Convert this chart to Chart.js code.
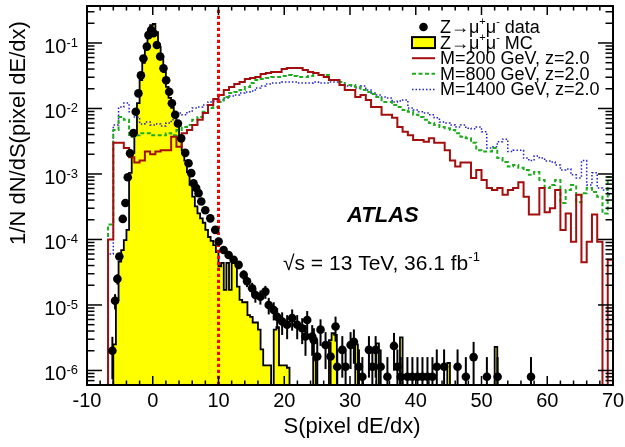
<!DOCTYPE html>
<html>
<head>
<meta charset="utf-8">
<script src="https://cdn.jsdelivr.net/npm/chart.js@4.4.1/dist/chart.umd.min.js"></script>
<style>
  html, body { margin: 0; padding: 0; background: #fff; }
  #c { display: block; }
</style>
</head>
<body>
<canvas id="c" width="625" height="447"></canvas>
<script>
// binning of the histograms (S in pixel dE/dx units)
const sigStart = -6.8, sigWidth = 0.8;
const mcStart = -6.0, mcWidth = 0.4;
const cutS = 10;
const yMin = 6.0e-7, yMax = 0.367;
const eventWeight = 8e-7; // one data event, for the Poisson error bars

// signal samples, z=2.0
const sig200 = [
  1.0e-4, 3.0e-3, 3.0e-3, 2.5e-3, 1.8e-3, 1.5e-3, 1.6e-3, 2.2e-3, 2.0e-3, 2.2e-3,
  2.3e-3, 2.3e-3, 3.7e-3, 2.6e-3, 4.2e-3, 4.7e-3, 5.6e-3, 6.7e-3, 8.5e-3, 1.13e-2,
  1.40e-2, 1.61e-2, 1.92e-2, 2.13e-2, 2.37e-2, 2.54e-2, 2.82e-2, 2.92e-2, 3.03e-2, 3.36e-2,
  3.48e-2, 3.61e-2, 3.61e-2, 4.01e-2, 4.15e-2, 4.15e-2, 4.15e-2, 3.87e-2, 3.61e-2, 3.48e-2,
  3.25e-2, 3.03e-2, 2.72e-2, 2.72e-2, 2.29e-2, 1.92e-2, 1.92e-2, 1.50e-2, 1.61e-2, 1.35e-2,
  1.05e-2, 1.05e-2, 8.0e-3, 8.0e-3, 7.2e-3, 5.2e-3, 4.4e-3, 3.9e-3, 3.3e-3, 3.3e-3,
  3.1e-3, 3.5e-3, 3.0e-3, 3.0e-3, 2.3e-3, 1.6e-3, 1.3e-3, 1.5e-3, 1.5e-3, 8.7e-4,
  1.15e-3, 8.1e-4, 6.1e-4, 5.7e-4, 6.1e-4, 4.8e-4, 5.7e-4, 6.1e-4, 7.5e-4, 4.5e-4,
  2.4e-4, 2.4e-4, 6.1e-4, 2.6e-4, 3.0e-4, 5.7e-4, 1.4e-4, 2.5e-4, 9.2e-5, 4.8e-4,
  4.5e-5, 9.2e-5, 2.4e-4, 9.2e-5, 0, 4.9e-5
];
const sig800 = [
  1.7e-4, 4.7e-3, 7.4e-3, 6.7e-3, 3.7e-3, 3.9e-3, 4.2e-3, 4.2e-3, 3.9e-3, 3.9e-3,
  3.9e-3, 4.2e-3, 3.9e-3, 4.7e-3, 5.2e-3, 5.6e-3, 6.7e-3, 7.4e-3, 8.9e-3, 1.02e-2,
  1.05e-2, 1.26e-2, 1.50e-2, 1.72e-2, 1.79e-2, 1.92e-2, 2.13e-2, 2.45e-2, 2.72e-2, 2.82e-2,
  2.92e-2, 3.03e-2, 3.03e-2, 3.13e-2, 3.25e-2, 3.13e-2, 3.03e-2, 3.03e-2, 3.13e-2, 3.48e-2,
  3.25e-2, 3.25e-2, 2.72e-2, 2.72e-2, 2.54e-2, 2.29e-2, 2.29e-2, 2.13e-2, 1.92e-2, 1.79e-2,
  1.67e-2, 1.50e-2, 1.26e-2, 1.26e-2, 1.13e-2, 1.05e-2, 9.5e-3, 8.9e-3, 8.0e-3, 7.4e-3,
  6.7e-3, 6.0e-3, 5.6e-3, 5.2e-3, 5.0e-3, 4.7e-3, 4.2e-3, 3.7e-3, 3.5e-3, 3.0e-3,
  2.3e-3, 2.2e-3, 2.2e-3, 2.5e-3, 1.75e-3, 1.52e-3, 1.3e-3, 1.37e-3, 1.24e-3, 1.15e-3,
  9.7e-4, 1.07e-3, 8.1e-4, 6.1e-4, 6.8e-4, 8.1e-4, 3.6e-4, 5.7e-4, 6.8e-4, 3.7e-4,
  5.1e-4, 6.1e-4, 5.3e-4, 4.5e-4, 2.5e-4, 9.0e-4
];
const sig1400 = [
  6.0e-5, 5.6e-3, 1.05e-2, 1.21e-2, 8.9e-3, 7.4e-3, 5.8e-3, 6.2e-3, 5.6e-3, 5.8e-3,
  5.4e-3, 6.0e-3, 6.7e-3, 8.5e-3, 8.0e-3, 8.9e-3, 1.02e-2, 1.05e-2, 1.13e-2, 1.26e-2,
  1.30e-2, 1.35e-2, 1.45e-2, 1.55e-2, 1.61e-2, 1.72e-2, 1.79e-2, 1.85e-2, 2.06e-2, 2.21e-2,
  2.37e-2, 2.45e-2, 2.45e-2, 2.54e-2, 2.54e-2, 2.54e-2, 2.45e-2, 2.45e-2, 2.45e-2, 2.54e-2,
  2.45e-2, 2.45e-2, 2.54e-2, 2.54e-2, 2.29e-2, 2.21e-2, 2.21e-2, 2.06e-2, 2.21e-2, 1.92e-2,
  1.72e-2, 1.61e-2, 1.50e-2, 1.45e-2, 1.26e-2, 1.30e-2, 1.35e-2, 1.02e-2, 9.5e-3, 8.9e-3,
  8.5e-3, 8.0e-3, 7.2e-3, 6.2e-3, 6.0e-3, 5.6e-3, 5.2e-3, 5.6e-3, 5.0e-3, 4.9e-3,
  5.2e-3, 4.4e-3, 2.5e-3, 2.6e-3, 3.1e-3, 3.4e-3, 2.2e-3, 2.3e-3, 2.3e-3, 1.75e-3,
  1.6e-3, 1.88e-3, 1.75e-3, 1.58e-3, 1.52e-3, 1.37e-3, 1.15e-3, 1.19e-3, 9.7e-4, 8.7e-4,
  1.6e-3, 6.8e-4, 1.04e-3, 6.1e-4, 5.7e-4, 4.8e-4
];

// Z->mumu simulation
const zmumuMC = [
  2.5e-6, 1.2e-5, 4.6e-5, 6.9e-5, 9.8e-5, 1.4e-4, 1.04e-3, 2.1e-3, 4.2e-3, 1.21e-2,
  2.72e-2, 4.96e-2, 8.4e-2, 0.128, 0.188, 0.195, 0.147, 0.087, 0.061, 0.036,
  2.13e-2, 1.45e-2, 1.02e-2, 8.0e-3, 6.2e-3, 3.7e-3, 2.3e-3, 1.6e-3, 1.07e-3, 6.8e-4,
  4.5e-4, 3.2e-4, 2.5e-4, 2.1e-4, 1.8e-4, 1.4e-4, 1.09e-4, 9.5e-5, 8.2e-5, 6.4e-5,
  3.9e-5, 4.4e-5, 1.7e-5, 4.4e-5, 1.7e-5, 4.4e-5, 4.4e-5, 1.9e-5, 1.2e-5, 1.1e-5,
  1.1e-5, 7.0e-6, 6.6e-6, 5.4e-6, 5.4e-6, 4.2e-6, 2.1e-6, 1.2e-6, 1.2e-6, 1.2e-6,
  0, 4.2e-6, 4.6e-6, 1.2e-6, 1.2e-6, 1.2e-6, 1.1e-6, 0, 0, 0,
  0, 0, 0, 0, 0, 0, 1.6e-6, 0, 0, 0,
  0, 0, 2.9e-6, 3.7e-6, 3.5e-6, 0, 0, 0, 0, 0,
  0, 0, 2.5e-6, 0, 0, 0, 0, 0, 0, 0,
  2.6e-6, 0, 0, 0, 0, 0, 0, 0, 0, 3.2e-6,
  0, 0, 0, 0, 0, 0, 0, 0, 0, 0,
  0, 0, 0, 0, 0, 0, 0, 1.3e-6, 0, 0,
  0, 0, 0, 0, 0, 0, 0, 0, 0, 0,
  0, 0, 0, 0, 0, 2.3e-6, 0
];

// Z->mumu data (bin centre, content)
const dataS = [
  -6.14, -5.73, -5.38, -5.08, -4.56, -4.16, -3.80, -3.45, -2.94, -2.58,
  -2.18, -1.80, -1.42, -0.90, -0.66, -0.24, 0.11, 0.63, 1.13, 1.63,
  2.04, 2.50, 2.91, 3.41, 3.83, 4.33, 4.94, 5.44, 5.85, 6.20,
  6.60, 6.97, 7.38, 7.99, 8.75, 9.51, 10.02, 10.78, 11.54, 12.30,
  13.06, 13.83, 14.34, 15.11, 15.61, 16.37, 17.13, 17.64, 18.40, 18.92,
  19.68, 20.44, 21.20, 21.97, 22.73, 23.23, 23.49, 24.25, 24.50, 25.02,
  25.52, 26.28, 27.04, 27.80, 28.06, 28.83, 29.33, 30.09, 30.59, 31.36,
  31.88, 32.88, 33.40, 33.90, 34.66, 35.69, 36.69, 37.21, 37.71, 38.73,
  39.49, 40.26, 41.02, 41.78, 42.54, 43.20, 44.31, 46.36, 47.62, 48.80,
  50.82, 52.45, 57.53
];
const dataV = [
  2.0e-6, 1.16e-5, 2.5e-5, 5.5e-5, 2.06e-4, 3.6e-4, 8.9e-4, 2.07e-3, 4.2e-3, 8.9e-3,
  1.7e-2, 3.2e-2, 5.8e-2, 8.8e-2, 0.132, 0.158, 0.141, 0.093, 0.062, 0.041,
  0.027, 0.018, 0.012, 8.0e-3, 5.9e-3, 3.5e-3, 2.1e-3, 1.46e-3, 1.03e-3, 7.2e-4,
  6.1e-4, 5.1e-4, 3.8e-4, 2.8e-4, 2.1e-4, 1.4e-4, 9.3e-5, 6.9e-5, 5.8e-5, 4.9e-5,
  4.1e-5, 2.9e-5, 2.3e-5, 1.8e-5, 1.42e-5, 1.34e-5, 1.6e-5, 1.0e-5, 8.4e-6, 6.6e-6,
  5.6e-6, 5.0e-6, 6.3e-6, 5.0e-6, 4.4e-6, 3.3e-6, 5.9e-6, 3.3e-6, 2.9e-6, 1.63e-6,
  4.2e-6, 2.45e-6, 1.63e-6, 4.7e-6, 1.14e-6, 2.06e-6, 1.14e-6, 2.45e-6, 2.75e-6, 1.14e-6,
  8.0e-7, 2.06e-6, 1.14e-6, 2.06e-6, 1.14e-6, 8.0e-7, 2.37e-6, 1.14e-6, 8.0e-7, 8.0e-7,
  8.0e-7, 8.0e-7, 8.0e-7, 8.0e-7, 8.0e-7, 1.14e-6, 1.14e-6, 1.14e-6, 8.0e-7, 1.6e-6,
  8.0e-7, 8.0e-7, 8.0e-7
];

const xMajor = [-10, 0, 10, 20, 30, 40, 50, 60, 70];
const xMinorStep = 2;
const yDecades = [-6, -5, -4, -3, -2, -1];

const legendLabels = [
  [['Z\u2192\u03bc'], ['+', 1], ['\u03bc'], ['-', 1], [' data']],
  [['Z\u2192\u03bc'], ['+', 1], ['\u03bc'], ['-', 1], [' MC']],
  [['M=200 GeV, z=2.0']],
  [['M=800 GeV, z=2.0']],
  [['M=1400 GeV, z=2.0']]
];

const FONT = "'Liberation Sans', Arial, Helvetica, sans-serif";
const FLOOR = 1e-12;

function histPoints(vals, start, width) {
  const pts = [{ x: start, y: FLOOR }];
  vals.forEach((v, i) => pts.push({ x: start + i * width, y: v > 0 ? v : FLOOR }));
  const end = start + vals.length * width;
  const last = vals[vals.length - 1];
  pts.push({ x: end, y: last > 0 ? last : FLOOR });
  pts.push({ x: end, y: FLOOR });
  return pts;
}

function drawRich(ctx, x, y, parts, size) {
  let cx = x;
  parts.forEach(([t, sup]) => {
    const fs = sup ? Math.round(size * 0.62) : size;
    ctx.font = fs + 'px ' + FONT;
    ctx.fillText(t, cx, sup ? y - size * 0.42 : y);
    cx += ctx.measureText(t).width;
  });
}

function seg(ctx, x1, y1, x2, y2) {
  ctx.beginPath(); ctx.moveTo(x1, y1); ctx.lineTo(x2, y2); ctx.stroke();
}

const atlasDecor = {
  id: 'atlasDecor',
  beforeDatasetDraw(chart, args) {
    if (args.index !== 0) return;
    const { ctx, chartArea: a, scales: { x, y } } = chart;
    ctx.save();
    ctx.beginPath(); ctx.rect(a.left, a.top, a.right - a.left, a.bottom - a.top); ctx.clip();
    ctx.strokeStyle = '#000'; ctx.lineWidth = 2;
    const n = Math.min(dataS.length, dataV.length);
    for (let i = 0; i < n; i++) {
      const v = dataV[i];
      const err = Math.sqrt(v * eventWeight);
      const px = x.getPixelForValue(dataS[i]);
      const lo = v - err > yMin ? y.getPixelForValue(v - err) : a.bottom;
      seg(ctx, px, y.getPixelForValue(v + err), px, lo);
    }
    ctx.restore();
  },
  afterDraw(chart) {
    const { ctx, chartArea: a, scales: { x, y } } = chart;
    ctx.save();
    ctx.strokeStyle = '#000'; ctx.fillStyle = '#000';
    ctx.lineWidth = 1.5;
    // x ticks, bottom and top
    for (let s = xMajor[0]; s <= xMajor[xMajor.length - 1]; s += xMinorStep) {
      const px = x.getPixelForValue(s);
      const len = xMajor.includes(s) ? 9 : 4.5;
      seg(ctx, px, a.bottom, px, a.bottom - len);
      seg(ctx, px, a.top, px, a.top + len);
    }
    // y ticks, left and right
    for (let d = yDecades[0] - 1; d <= yDecades[yDecades.length - 1] + 1; d++) {
      for (let m = 1; m <= 9; m++) {
        const v = m * Math.pow(10, d);
        if (v < yMin || v > yMax) continue;
        const py = y.getPixelForValue(v);
        const len = m === 1 ? 15 : 7.5;
        seg(ctx, a.left, py, a.left + len, py);
        seg(ctx, a.right, py, a.right - len, py);
      }
    }
    ctx.lineWidth = 2;
    ctx.strokeRect(a.left, a.top, a.right - a.left, a.bottom - a.top);

    // x tick labels
    ctx.font = '20px ' + FONT;
    ctx.textAlign = 'center'; ctx.textBaseline = 'alphabetic';
    xMajor.forEach(s => ctx.fillText(String(s), x.getPixelForValue(s), 407));
    // y tick labels 10^n
    yDecades.forEach(d => {
      const py = y.getPixelForValue(Math.pow(10, d));
      ctx.font = '13px ' + FONT;
      const sw = ctx.measureText(String(d)).width;
      ctx.textAlign = 'left';
      ctx.fillText(String(d), 78 - sw, py + 4);
      ctx.font = '20px ' + FONT;
      ctx.textAlign = 'right';
      ctx.fillText('10', 78 - sw, py + 10);
    });
    // axis titles
    ctx.textAlign = 'center';
    ctx.font = '22px ' + FONT;
    ctx.fillText('S(pixel dE/dx)', 352, 433);
    ctx.save();
    ctx.translate(25, 133);
    ctx.rotate(-Math.PI / 2);
    ctx.fillText('1/N dN/dS(pixel dE/dx)', 0, 0);
    ctx.restore();

    // labels
    ctx.textAlign = 'left';
    ctx.font = 'italic bold 22px ' + FONT;
    ctx.fillText('ATLAS', 347, 222);
    drawRich(ctx, 283, 270, [['\u221as = 13 TeV, 36.1 fb'], ['-1', 1]], 21);

    // legend
    const lx0 = 412, lx1 = 435, tx = 440;
    legendLabels.forEach((parts, i) => {
      const cy = 27 + i * 15.6;
      ctx.setLineDash([]);
      if (i === 0) {
        ctx.beginPath(); ctx.arc((lx0 + lx1) / 2, cy, 4.3, 0, Math.PI * 2); ctx.fill();
      } else if (i === 1) {
        ctx.fillStyle = '#ffff00';
        ctx.fillRect(lx0, cy - 5.5, lx1 - lx0, 11);
        ctx.lineWidth = 2; ctx.strokeStyle = '#000';
        ctx.strokeRect(lx0, cy - 5.5, lx1 - lx0, 11);
        ctx.fillStyle = '#000';
      } else {
        const ds = chart.data.datasets[i];
        ctx.strokeStyle = ds.borderColor; ctx.lineWidth = ds.borderWidth;
        ctx.setLineDash(ds.borderDash || []);
        seg(ctx, lx0, cy, lx1, cy);
        ctx.setLineDash([]);
      }
      ctx.fillStyle = '#000';
      drawRich(ctx, tx, cy + 6, parts, 18);
    });
    ctx.restore();
  }
};

new Chart(document.getElementById('c'), {
  type: 'line',
  data: {
    datasets: [
      { type: 'scatter', label: 'data', data: dataS.map((s, i) => ({ x: s, y: dataV[i] })),
        pointRadius: 4.3, pointBackgroundColor: '#000', pointBorderWidth: 0, showLine: false, order: 0 },
      { label: 'cut', data: [{ x: cutS, y: yMin }, { x: cutS, y: yMax }], borderColor: '#ff0000',
        borderWidth: 3, borderDash: [3.2, 2.8], pointRadius: 0, order: 1 },
      { label: 'M=200', data: histPoints(sig200, sigStart, sigWidth), stepped: true, borderColor: '#a30f0f',
        borderWidth: 2, pointRadius: 0, fill: false, order: 2 },
      { label: 'M=800', data: histPoints(sig800, sigStart, sigWidth), stepped: true, borderColor: '#1faa1f',
        borderWidth: 2, borderDash: [4, 2.5], pointRadius: 0, fill: false, order: 3 },
      { label: 'M=1400', data: histPoints(sig1400, sigStart, sigWidth), stepped: true, borderColor: '#2020c8',
        borderWidth: 1.5, borderDash: [1.5, 2], pointRadius: 0, fill: false, order: 4 },
      { label: 'MC', data: histPoints(zmumuMC, mcStart, mcWidth), stepped: true, borderColor: '#000',
        borderWidth: 1.8, backgroundColor: '#ffff00', fill: 'start', pointRadius: 0, order: 5 }
    ]
  },
  options: {
    responsive: false,
    animation: false,
    events: [],
    layout: { padding: { left: 87, right: 12, top: 6, bottom: 62 } },
    scales: {
      x: { type: 'linear', min: -10, max: 70, display: false },
      y: { type: 'logarithmic', min: yMin, max: yMax, display: false }
    },
    plugins: { legend: { display: false }, tooltip: { enabled: false } }
  },
  plugins: [atlasDecor]
});
</script>
</body>
</html>
